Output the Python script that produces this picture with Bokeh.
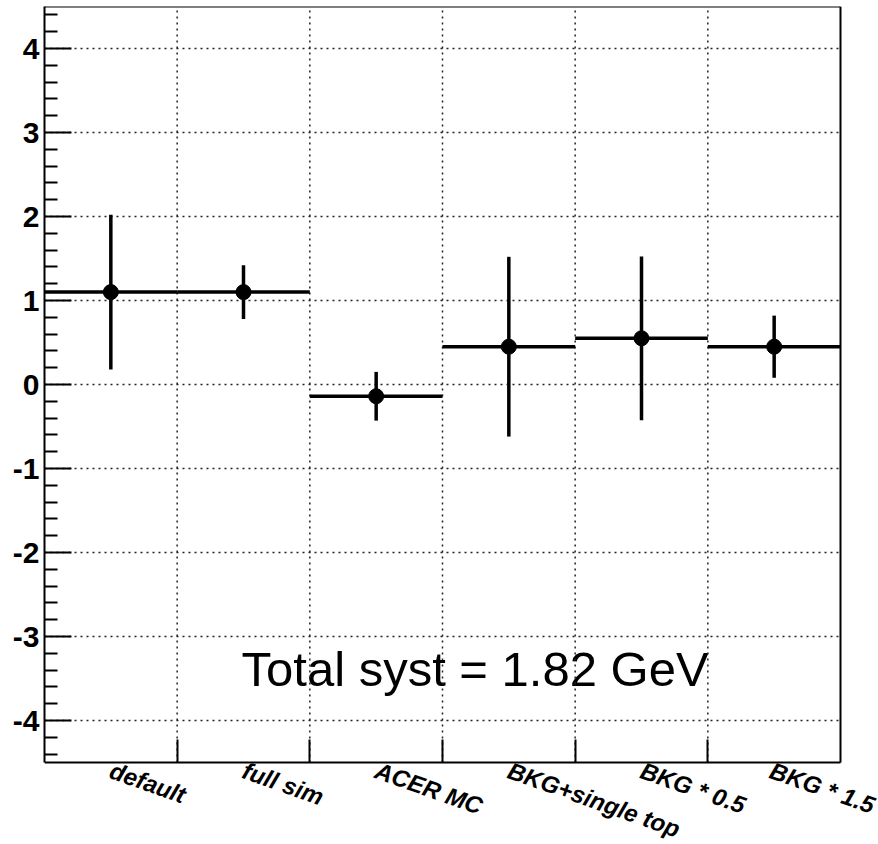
from bokeh.plotting import figure
from bokeh.models import Range1d, FixedTicker, ColumnDataSource, LinearAxis
from bokeh.core.properties import value
from bokeh.embed import file_html
from bokeh.resources import INLINE

categories = ["default", "full sim", "ACER MC", "BKG+single top", "BKG * 0.5", "BKG * 1.5"]
values = [1.10, 1.10, -0.14, 0.45, 0.55, 0.45]
errors = [0.92, 0.32, 0.29, 1.07, 0.975, 0.37]
y_ticks = [-4, -3, -2, -1, 0, 1, 2, 3, 4]
y_tick_labels = ["-4", "-3", "-2", "-1", "0", "1", "2", "3", "4"]
note = "Total syst = 1.82 GeV"

n = len(categories)
idx = list(range(n))
src = ColumnDataSource(dict(
    left=[i for i in idx],
    right=[i + 1 for i in idx],
    center=[i + 0.5 for i in idx],
    y=values,
    lo=[v - e for v, e in zip(values, errors)],
    hi=[v + e for v, e in zip(values, errors)],
))

# page geometry: the data box spans x 44..840 and y 6..762; the drawing area is
# extended to the page edge so that the slanted category labels are not clipped
W, H = 878, 844
BL, BT = 44, 6
BOX_RIGHT, BOX_BOTTOM = 840, 762
YMIN, YMAX = -4.5, 4.5
x_end = n * (W - BL) / (BOX_RIGHT - BL)
y_start = YMAX - (YMAX - YMIN) * (H - BT) / (BOX_BOTTOM - BT)

p = figure(width=W, height=H, output_backend="svg", toolbar_location=None,
           x_range=Range1d(0, x_end), y_range=Range1d(y_start, YMAX),
           min_border_left=BL, min_border_right=0, min_border_top=BT, min_border_bottom=0)
p.background_fill_color = "white"
p.border_fill_color = "white"
p.outline_line_color = None
p.xgrid.visible = False
p.ygrid.visible = False

edges = [i for i in range(1, n)]
centers = [i + 0.5 for i in idx]
minor_y = [round(t + k * 0.2, 1) for t in [-5] + y_ticks for k in range(1, 5)]
minor_y = [m for m in minor_y if YMIN <= m <= YMAX]

# annotation text (drawn beneath the dotted grid, as in the original)
p.text(x=[1.485], y=[-3.39], text=[note], text_font=value("Liberation Sans"),
       text_font_size="49px", text_color="black", text_baseline="middle", text_align="left")

# dotted grid
grid_kw = dict(line_color="#222222", line_dash="2 4", line_width=1.5)
p.segment(x0=edges, x1=edges, y0=[YMIN] * len(edges), y1=[YMAX] * len(edges), **grid_kw)
p.segment(x0=[0] * len(y_ticks), x1=[n] * len(y_ticks), y0=y_ticks, y1=y_ticks, **grid_kw)

# bottom axis: category labels at bin centres, tick marks at bin edges
xax = p.xaxis[0]
xax.fixed_location = YMIN
xax.bounds = (0, n)
xax.ticker = FixedTicker(ticks=centers, minor_ticks=edges)
xax.major_label_overrides = {c: cat for c, cat in zip(centers, categories)}
xax.major_tick_line_color = None
xax.major_tick_in = 0
xax.major_tick_out = 0
xax.minor_tick_in = 23
xax.minor_tick_out = 0
xax.minor_tick_line_width = 2
xax.minor_tick_line_color = "black"
xax.axis_line_width = 2
xax.axis_line_color = "black"
xax.major_label_orientation = -0.34
xax.major_label_standoff = 7
xax.major_label_text_font = "Liberation Sans"
xax.major_label_text_font_style = "bold italic"
xax.major_label_text_font_size = "24px"
xax.major_label_text_color = "black"

yax = p.yaxis[0]
yax.bounds = (YMIN, YMAX)
yax.ticker = FixedTicker(ticks=y_ticks, minor_ticks=minor_y)
yax.major_label_overrides = {t: s for t, s in zip(y_ticks, y_tick_labels)}
yax.major_tick_in = 27
yax.major_tick_out = 0
yax.minor_tick_in = 13
yax.minor_tick_out = 0
yax.major_tick_line_width = 2
yax.minor_tick_line_width = 2
yax.major_tick_line_color = "black"
yax.minor_tick_line_color = "black"
yax.axis_line_width = 2
yax.axis_line_color = "black"
yax.major_label_standoff = 5
yax.major_label_text_font = "Liberation Sans"
yax.major_label_text_font_style = "bold"
yax.major_label_text_font_size = "30px"
yax.major_label_text_color = "black"

# top and right edges of the box
def spine(loc, bounds):
    return LinearAxis(fixed_location=loc, bounds=bounds, ticker=FixedTicker(ticks=[]),
                      major_tick_in=0, major_tick_out=0, minor_tick_in=0, minor_tick_out=0,
                      major_label_standoff=0, axis_line_width=2, axis_line_color="black",
                      major_label_text_font_size="0px")

p.add_layout(spine(YMAX, (0, n)), "above")
p.add_layout(spine(n, (YMIN, YMAX)), "right")

p.segment(x0="left", x1="right", y0="y", y1="y", source=src, line_color="black", line_width=3.5)
p.segment(x0="center", x1="center", y0="lo", y1="hi", source=src, line_color="black", line_width=3.5)
p.scatter(x="center", y="y", source=src, size=15, marker="circle", fill_color="black", line_color="black")

open("out.html", "w").write(file_html(p, INLINE))
